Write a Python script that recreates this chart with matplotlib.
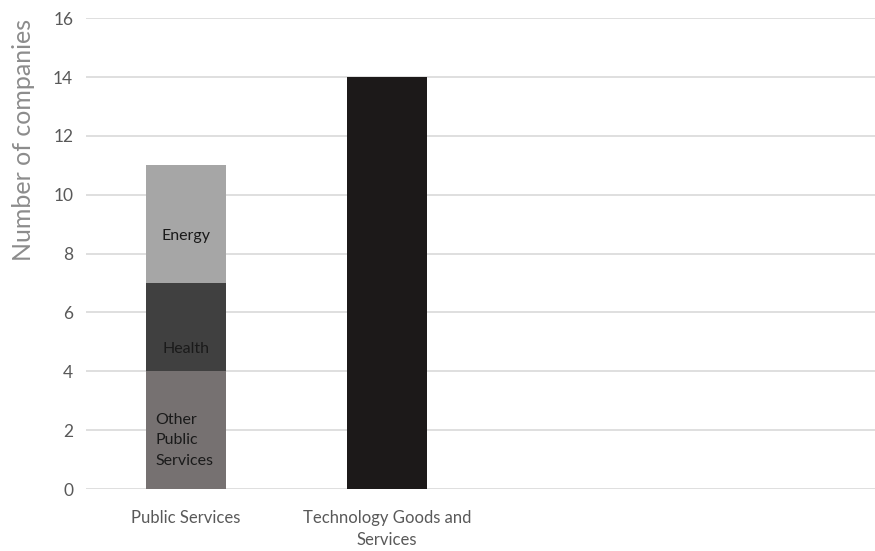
import numpy as np
import matplotlib.pyplot as plt

plt.rcParams['font.family'] = ['Lato', 'DejaVu Sans']

categories = ["Public Services", "Technology Goods and\nServices", "", ""]
segments = ["Other\nPublic\nServices", "Health", "Energy"]
public_values = [4, 3, 4]
tech_value = 14

seg_colors = ["#767171", "#404040", "#a6a6a6"]
tech_color = "#1c1919"

fig = plt.figure(figsize=(8.75, 5.51), dpi=100)
ax = fig.add_axes([0.098, 0.1125, 0.902, 0.8545])

x = np.arange(len(categories))
width = 0.4

bottom = 0
label_shift = [-0.35, -0.75, -0.4]
for val, name, col, shift in zip(public_values, segments, seg_colors, label_shift):
    ax.bar(x[0], val, width, bottom=bottom, color=col, zorder=3)
    ty = bottom + val / 2 + shift
    if name.startswith("Other"):
        ax.text(x[0] - width / 2 + 0.05, ty, name, ha="left", va="center",
                fontsize=11.5, color="#1a1a1a", linespacing=1.6, zorder=4)
    else:
        ax.text(x[0], ty, name, ha="center", va="center",
                fontsize=11.5, color="#1a1a1a", zorder=4)
    bottom += val

ax.bar(x[1], tech_value, width, color=tech_color, zorder=3)

ax.set_xlim(-0.4975, 3.425)
ax.set_ylim(0, 16)
ax.set_yticks(np.arange(0, 17, 2))
ax.set_xticks(x[:2])
ax.set_xticklabels(categories[:2], fontsize=12, color="#595959", linespacing=1.5)
ax.tick_params(axis="y", labelsize=12.5, labelcolor="#595959", length=0, pad=9)
ax.tick_params(axis="x", length=0, pad=15)
ax.grid(axis="y", color="#d9d9d9", linewidth=1.2, zorder=0)
for s in ax.spines.values():
    s.set_visible(False)

ax.set_ylabel("Number of companies", fontsize=18, color="#8c8c8c")
ax.yaxis.set_label_coords(-0.064, 0.741)

fig.savefig("out.png", dpi=100)
